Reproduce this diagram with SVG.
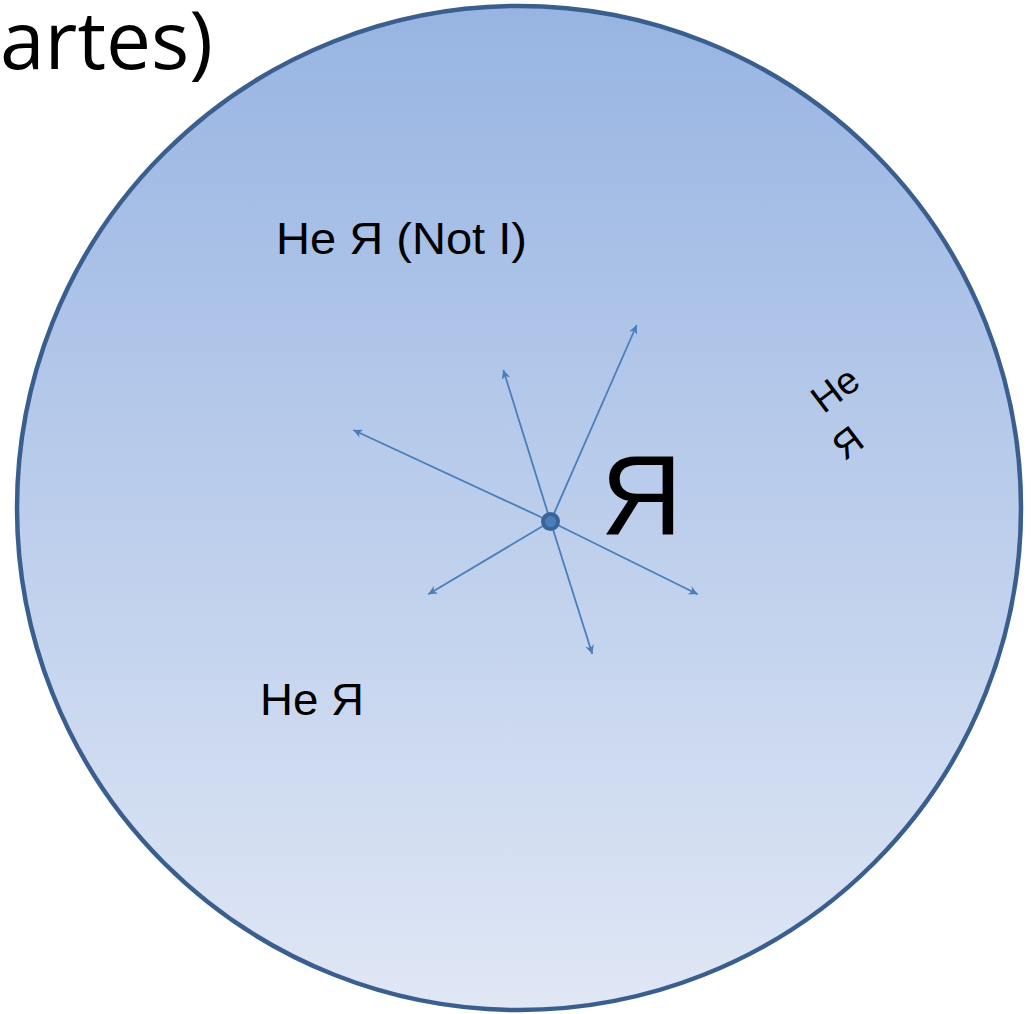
<svg xmlns="http://www.w3.org/2000/svg" width="1031" height="1014" viewBox="0 0 1031 1014">
<style>
.lbl{font-family:"Liberation Sans",Arial,sans-serif;fill:#000}
.arr{stroke:#4A7EBB;stroke-width:1.8;fill:none;marker-end:url(#ah)}
</style>
<defs>
<linearGradient id="bg" x1="0" y1="0" x2="0" y2="1">
<stop offset="0" stop-color="#97B4E2"/>
<stop offset="1" stop-color="#E0E7F5"/>
</linearGradient>
<marker id="ah" viewBox="0 0 10 10" refX="10" refY="5" markerWidth="10" markerHeight="9" markerUnits="userSpaceOnUse" orient="auto">
<path d="M0,0 L10,5 L0,10 L3,5 z" fill="#4A7EBB"/>
</marker>
</defs>
<rect width="1031" height="1014" fill="#fff"/>
<text x="0" y="69" font-family="'Open Sans','Liberation Sans',sans-serif" font-size="80" fill="#000" textLength="213" lengthAdjust="spacingAndGlyphs">artes)</text>
<g id="circle">
<circle cx="519" cy="508" r="502" fill="url(#bg)" stroke="#3A5F8F" stroke-width="4.5"/>
</g>
<g id="connectors">
<line class="arr" x1="550.5" y1="521.5" x2="636.7" y2="325"/>
<line class="arr" x1="550.5" y1="521.5" x2="503.3" y2="370"/>
<line class="arr" x1="550.5" y1="521.5" x2="353.3" y2="430"/>
<line class="arr" x1="550.5" y1="521.5" x2="428.3" y2="594.3"/>
<line class="arr" x1="550.5" y1="521.5" x2="592.3" y2="654"/>
<line class="arr" x1="550.5" y1="521.5" x2="697.7" y2="594.3"/>
</g>
<g id="center">
<circle cx="550.5" cy="521.5" r="7.5" fill="#4A7EBB" stroke="#3A6497" stroke-width="4"/>
</g>
<g id="ya">
<text class="lbl" x="641.5" y="534" font-size="113" text-anchor="middle">Я</text>
</g>
<g id="not-i">
<text class="lbl" x="276" y="254" font-size="44" textLength="251" lengthAdjust="spacingAndGlyphs">Не Я (Not I)</text>
</g>
<g id="ne-ya-bottom">
<text class="lbl" x="260" y="715" font-size="44" textLength="104" lengthAdjust="spacingAndGlyphs">Не Я</text>
</g>
<g id="ne-ya-rotated" transform="translate(843,400) rotate(-37)">
<text class="lbl" x="0" y="0" font-size="38" text-anchor="middle">Не</text>
<text class="lbl" x="-22" y="50" font-size="38" text-anchor="middle">Я</text>
</g>
</svg>
